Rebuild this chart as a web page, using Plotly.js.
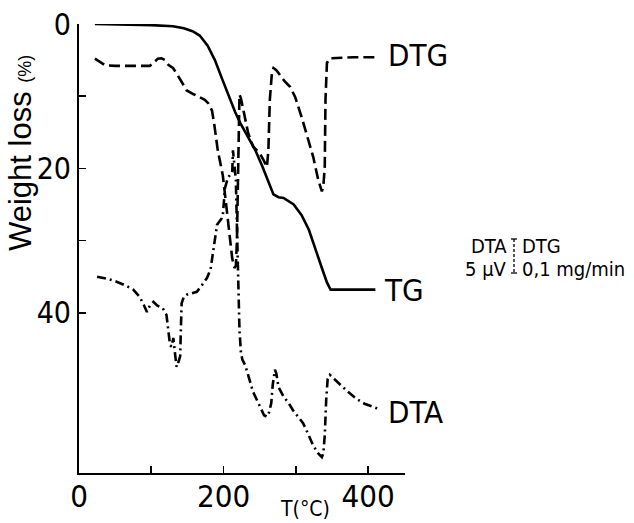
<!DOCTYPE html>
<html>
<head>
<meta charset="utf-8">
<script src="https://cdn.plot.ly/plotly-3.0.1.min.js"></script>
<style>html,body{margin:0;padding:0;background:#fff;}#chart{width:634px;height:523px;}</style>
</head>
<body>
<div id="chart"></div>
<script>
// TG curve (solid): temperature (°C) and weight loss (%)
const tgT = [22, 60, 100, 130, 145, 157, 167, 178, 188, 198, 209, 216, 223, 234, 244, 254, 264, 269, 276, 283, 297, 308, 318, 327, 336, 343, 348, 380, 410];
const tgY = [0, 0.05, 0.15, 0.3, 0.6, 1.0, 1.6, 3.0, 5.0, 7.6, 10.5, 12.2, 13.7, 15.6, 17.5, 19.8, 22.5, 23.6, 24.0, 24.1, 25.0, 26.5, 28.5, 31.0, 33.8, 35.8, 36.8, 36.8, 36.8];

// DTG curve (dashed), plotted position on the same scale
const dtgT = [22, 28, 36, 50, 70, 90, 98, 104, 109, 114, 119, 124, 130, 136, 142, 149, 158, 167, 174, 179, 184, 187, 189, 192, 196, 199, 203, 206, 209, 212, 215, 217, 218.5, 219.5, 220.5, 221.5, 222, 224, 227, 234, 241, 250, 255, 260, 262, 264, 267, 269, 273, 278, 285, 292, 299, 308, 317, 324, 331, 336, 338, 340, 341, 343, 347, 360, 380, 410];
const dtgY = [4.8, 5.2, 5.7, 5.8, 5.8, 5.8, 5.8, 5.3, 4.8, 4.75, 5.0, 5.7, 6.1, 7.0, 8.0, 9.2, 9.7, 10.1, 10.5, 11.0, 12.0, 13.8, 15.5, 17.5, 19.5, 21.0, 24.5, 27.5, 30.2, 32.5, 33.8, 33.5, 30.0, 24.0, 17.5, 11.5, 9.8, 10.3, 11.9, 15.1, 17.0, 17.9, 18.8, 19.8, 17.5, 10.5, 6.6, 6.1, 6.4, 7.1, 8.0, 8.7, 10.1, 12.9, 16.1, 18.4, 21.6, 23.2, 22.5, 19.8, 10.5, 5.4, 4.75, 4.7, 4.6, 4.6];

// DTA curve (dash-dot), plotted position on the same scale
const dtaT = [25, 40, 52, 64, 75, 84, 90, 94, 98, 103, 108, 112, 116, 121, 124, 126, 128, 130.5, 133, 135, 137, 140, 141, 142, 145, 149, 156, 163, 170, 177, 182, 184, 187, 191, 194, 197, 199, 201, 202, 206, 210, 212, 213, 215, 217, 218, 219, 220, 221, 222, 224, 226, 230, 234, 238, 241, 250, 256, 260, 263, 266, 268, 271, 273, 276, 283, 290, 296, 303, 310, 317, 324, 331, 336, 338, 340, 342, 344, 347, 355, 365, 375, 385, 395, 405, 414];
const dtaY = [35.0, 35.3, 35.7, 36.2, 36.8, 37.8, 39.0, 39.9, 39.0, 38.5, 39.0, 39.2, 39.4, 40.3, 42.8, 44.5, 44.7, 43.5, 45.8, 47.5, 47.0, 46.0, 42.0, 38.7, 37.8, 37.5, 37.3, 37.1, 36.2, 35.2, 34.0, 32.7, 30.5, 27.8, 27.4, 27.0, 26.5, 24.5, 22.7, 21.3, 20.8, 20.5, 17.5, 19.5, 21.6, 26.0, 30.0, 32.7, 38.0, 42.4, 45.5, 46.5, 47.3, 48.5, 50.0, 51.0, 53.0, 54.2, 54.4, 53.8, 52.5, 50.0, 47.9, 48.4, 50.3, 51.6, 52.5, 53.5, 54.4, 55.3, 56.8, 58.4, 59.5, 60.0, 59.5, 57.0, 52.0, 49.2, 48.6, 49.3, 50.3, 51.2, 52.0, 52.6, 53.0, 53.3];

// Axis ticks
const xTickVals = [0, 100, 200, 300, 400];
const xTickText = ["0", "", "200", "", "400"];
const yTickVals = [0, 10, 20, 30, 40];
const yTickText = ["0", "", "20", "", "40"];

const FONT = "'DejaVu Sans Condensed', 'Liberation Sans Narrow', 'Liberation Sans', sans-serif";
const lineStyle = {color: "#000", width: 2.6};

const traces = [
  {x: tgT, y: tgY, mode: "lines", name: "TG", line: Object.assign({}, lineStyle, {dash: "solid"})},
  {x: dtgT, y: dtgY, mode: "lines", name: "DTG", line: Object.assign({}, lineStyle, {dash: "11px,5px"})},
  {x: dtaT, y: dtaY, mode: "lines", name: "DTA", line: Object.assign({}, lineStyle, {dash: "9px,4px,2px,4px"})}
];

function px2x(p) { return (p - 79) / 326; }
function px2y(p) { return 1 - (p - 24) / 449; }

const ann = [
  {text: "DTG", x: px2x(386), y: px2y(55), xanchor: "left", yanchor: "middle", font: {size: 31}},
  {text: "TG", x: px2x(382), y: px2y(290), xanchor: "left", yanchor: "middle", font: {size: 31}},
  {text: "DTA", x: px2x(386), y: px2y(412), xanchor: "left", yanchor: "middle", font: {size: 31}},
  {text: "DTA", x: px2x(509), y: px2y(246), xanchor: "right", yanchor: "middle", font: {size: 20}},
  {text: "DTG", x: px2x(520), y: px2y(246), xanchor: "left", yanchor: "middle", font: {size: 20}},
  {text: "5 μV", x: px2x(509), y: px2y(269), xanchor: "right", yanchor: "middle", font: {size: 20}},
  {text: "0,1 mg/min", x: px2x(520), y: px2y(269), xanchor: "left", yanchor: "middle", font: {size: 20}},
  {text: "Weight loss <span style='font-size:18px'>(%)</span>", textangle: -90, x: px2x(20), y: px2y(153), xanchor: "center", yanchor: "middle", font: {size: 31, family: "'Liberation Sans', sans-serif"}},
  {text: "T(°C)", x: px2x(305), y: px2y(509), xanchor: "center", yanchor: "middle", font: {size: 21}}
].map(a => Object.assign({xref: "paper", yref: "paper", showarrow: false}, a));

const shapes = [
  {type: "line", x0: px2x(514), x1: px2x(514), y0: px2y(239), y1: px2y(273), line: {color: "#000", width: 1.3, dash: "3px,2px"}},
  {type: "line", x0: px2x(511), x1: px2x(517), y0: px2y(239), y1: px2y(239), line: {color: "#000", width: 1.3}},
  {type: "line", x0: px2x(511), x1: px2x(517), y0: px2y(273), y1: px2y(273), line: {color: "#000", width: 1.3}}
].map(s => Object.assign({xref: "paper", yref: "paper"}, s));

const layout = {
  width: 634, height: 523,
  margin: {l: 79, r: 229, t: 24, b: 50, pad: 0},
  paper_bgcolor: "#fff", plot_bgcolor: "#fff",
  showlegend: false,
  font: {family: FONT, color: "#000", size: 30},
  xaxis: {
    range: [0, 451], showgrid: false, zeroline: false,
    showline: true, linecolor: "#000", linewidth: 2, mirror: false,
    ticks: "inside", ticklen: 7, tickwidth: 1.6, tickcolor: "#000",
    tickmode: "array", tickvals: xTickVals, ticktext: xTickText,
    ticklabelstandoff: -5,
    tickfont: {size: 31, family: FONT}
  },
  yaxis: {
    range: [62.2, 0], showgrid: false, zeroline: false,
    showline: true, linecolor: "#000", linewidth: 2, mirror: false,
    ticks: "inside", ticklen: 7, tickwidth: 1.6, tickcolor: "#000",
    tickmode: "array", tickvals: yTickVals, ticktext: yTickText,
    tickfont: {size: 30, family: FONT}
  },
  annotations: ann,
  shapes: shapes
};

Plotly.newPlot("chart", traces, layout, {staticPlot: true, displayModeBar: false});
</script>
</body>
</html>
